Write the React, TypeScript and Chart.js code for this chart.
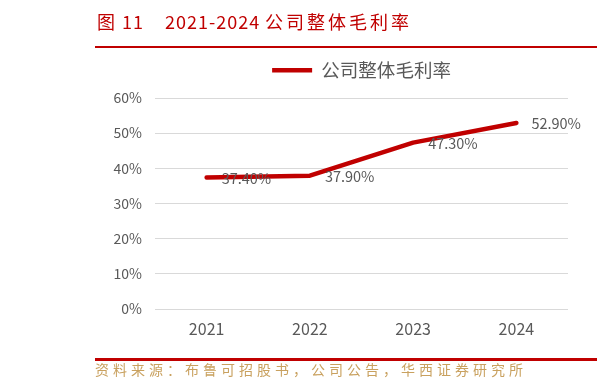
import React, { useEffect, useRef } from "react";
import { Chart, registerables } from "chart.js";

Chart.register(...registerables);

const categories = ["2021", "2022", "2023", "2024"];
const grossMargin = [37.4, 37.9, 47.3, 52.9];
const seriesName = "公司整体毛利率";
const yMin = 0;
const yMax = 60;
const yStep = 10;

const titleParts = ["图", "11", "2021-2024", "公司整体毛利率"];
const sourceText = "资料来源：布鲁可招股书，公司公告，华西证券研究所";

const RED = "#C00000";
const GRAY = "#595959";
const FONT = '"Noto Sans CJK SC", "Noto Sans", sans-serif';

const legendSpacer = {
  id: "legendSpacer",
  beforeUpdate(chart: any) {
    const lg = chart.legend;
    if (!lg || lg.__patched) return;
    const orig = lg.fit;
    lg.fit = function () {
      orig.call(this);
      if (this.options && this.options.display) this.height = 47;
    };
    lg.__patched = true;
  },
};

const pointLabels = {
  id: "pointLabels",
  afterDatasetsDraw(chart: any) {
    const ctx = chart.ctx;
    const meta = chart.getDatasetMeta(0);
    ctx.save();
    ctx.font = "14.5px " + FONT;
    ctx.fillStyle = GRAY;
    ctx.textAlign = "left";
    ctx.textBaseline = "middle";
    meta.data.forEach((pt: any, i: number) => {
      ctx.fillText(grossMargin[i].toFixed(2) + "%", pt.x + 15, pt.y + 1);
    });
    ctx.restore();
  },
};

export default function App() {
  const ref = useRef<HTMLCanvasElement | null>(null);

  useEffect(() => {
    if (!ref.current) return;
    const chart = new Chart(ref.current, {
      type: "line",
      data: {
        labels: categories,
        datasets: [
          {
            label: seriesName,
            data: grossMargin,
            borderColor: RED,
            backgroundColor: RED,
            borderWidth: 4.5,
            borderCapStyle: "round",
            borderJoinStyle: "round",
            tension: 0,
            pointRadius: 0,
            pointHoverRadius: 0,
            pointStyle: "line",
            pointBorderColor: RED,
            pointBorderWidth: 4.5,
          } as any,
        ],
      },
      options: {
        responsive: false,
        animation: false,
        layout: { padding: { top: 51, right: 29, left: 0, bottom: 0 } },
        plugins: {
          legend: {
            display: true,
            position: "top",
            fullSize: false,
            labels: {
              usePointStyle: true,
              pointStyleWidth: 40,
              color: GRAY,
              font: { size: 18.5, family: FONT },
              padding: 10,
            },
          },
          tooltip: { enabled: false },
        },
        scales: {
          x: {
            offset: true,
            grid: { display: false, drawTicks: false },
            border: { display: false },
            ticks: { color: GRAY, font: { size: 16, family: FONT }, padding: 10 },
            afterFit(scale: any) {
              scale.height = 81;
            },
          },
          y: {
            min: yMin,
            max: yMax,
            grid: { color: "#d9d9d9", lineWidth: 1, drawTicks: false },
            border: { display: false },
            ticks: {
              stepSize: yStep,
              color: GRAY,
              font: { size: 14, family: FONT },
              padding: 13,
              callback: (v: any) => v + "%",
            },
            afterFit(scale: any) {
              scale.width = 155;
            },
          },
        },
      },
      plugins: [legendSpacer, pointLabels],
    });
    return () => chart.destroy();
  }, []);

  const titleStyle: React.CSSProperties = {
    position: "absolute",
    top: 9,
    lineHeight: "24px",
    fontSize: 18,
    color: RED,
    whiteSpace: "pre",
  };

  return (
    <div
      style={{
        position: "fixed",
        left: 0,
        top: 0,
        width: 597,
        height: 390,
        background: "#fff",
        overflow: "hidden",
        fontFamily: FONT,
      }}
    >
      <canvas ref={ref} width={597} height={390} style={{ position: "absolute", left: 0, top: 0 }} />
      <div style={{ ...titleStyle, left: 97 }}>{titleParts[0]}</div>
      <div style={{ ...titleStyle, left: 122, letterSpacing: 1 }}>{titleParts[1]}</div>
      <div style={{ ...titleStyle, left: 165, letterSpacing: 1 }}>{titleParts[2]}</div>
      <div style={{ ...titleStyle, left: 265, letterSpacing: 3 }}>{titleParts[3]}</div>
      <div style={{ position: "absolute", left: 95, top: 46, width: 502, height: 2, background: RED }} />
      <div style={{ position: "absolute", left: 95, top: 358, width: 502, height: 3, background: RED }} />
      <div
        style={{
          position: "absolute",
          left: 95,
          top: 359,
          lineHeight: "20px",
          fontSize: 14,
          letterSpacing: 4,
          color: "#c9a15f",
          whiteSpace: "pre",
        }}
      >
        {sourceText}
      </div>
    </div>
  );
}
